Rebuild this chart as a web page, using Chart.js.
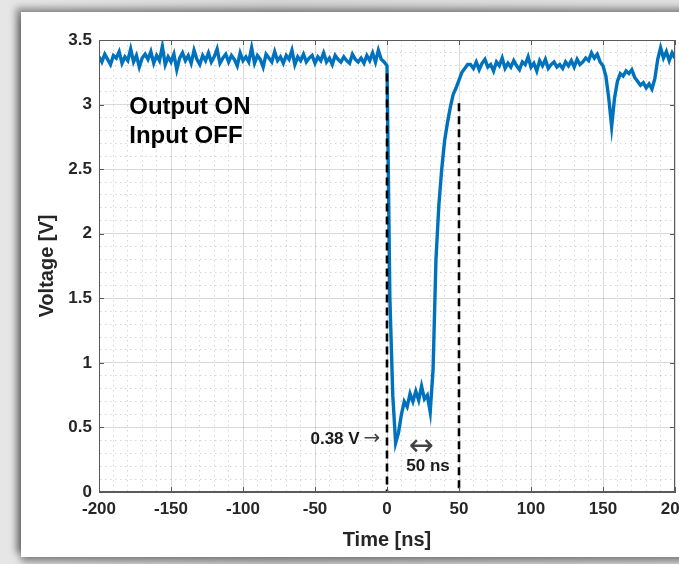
<!DOCTYPE html>
<html>
<head>
<meta charset="utf-8">
<script src="https://cdn.jsdelivr.net/npm/chart.js@4.4.0/dist/chart.umd.min.js"></script>
<style>
  html, body { margin: 0; padding: 0; }
  body { width: 679px; height: 564px; overflow: hidden; position: relative;
         background: linear-gradient(90deg, #e6e6e6, #d6d6d6 40%, #e0e0e0); }
  #panel { position: absolute; left: 21px; top: 12px; width: 720px; height: 545px; background: #fff;
           box-shadow: -5px -4px 7px rgba(0,0,0,0.4), 0 5px 7px rgba(0,0,0,0.4); }
  #chart { position: absolute; left: 0; top: 0; }
</style>
</head>
<body>
<div id="panel"></div>
<canvas id="chart" width="679" height="564"></canvas>
<script>
// scope trace, one sample every 2 ns starting at -200 ns
const t0 = -200;
const dt = 2;
const voltage = [
  // -200 .. -2 ns
  3.37, 3.33, 3.39, 3.35, 3.31, 3.38, 3.36, 3.41, 3.32, 3.37,
  3.34, 3.43, 3.33, 3.38, 3.29, 3.36, 3.39, 3.35, 3.41, 3.32,
  3.38, 3.34, 3.45, 3.31, 3.37, 3.33, 3.39, 3.27, 3.36, 3.40,
  3.34, 3.38, 3.32, 3.42, 3.35, 3.31, 3.38, 3.34, 3.40, 3.33,
  3.37, 3.43, 3.32, 3.36, 3.39, 3.33, 3.38, 3.35, 3.30, 3.40,
  3.34, 3.37, 3.33, 3.44, 3.32, 3.38, 3.35, 3.29, 3.39, 3.36,
  3.33, 3.41, 3.34, 3.37, 3.32, 3.38, 3.35, 3.42, 3.31, 3.37,
  3.34, 3.39, 3.33, 3.36, 3.38, 3.32, 3.37, 3.34, 3.40, 3.33,
  3.36, 3.31, 3.38, 3.35, 3.33, 3.37, 3.34, 3.32, 3.39, 3.35,
  3.33, 3.36, 3.32, 3.38, 3.34, 3.40, 3.33, 3.42, 3.35, 3.33,
  // 0 .. 56 ns
  3.30, 1.50, 0.75, 0.38, 0.46, 0.60, 0.70, 0.66, 0.76, 0.70,
  0.78, 0.71, 0.82, 0.72, 0.75, 0.62, 0.95, 1.80, 2.22, 2.50,
  2.72, 2.86, 2.98, 3.08, 3.13, 3.19, 3.25, 3.28, 3.31,
  // 58 .. 118 ns
  3.31, 3.28, 3.33, 3.27, 3.32, 3.35, 3.29, 3.31, 3.26, 3.33,
  3.30, 3.36, 3.28, 3.32, 3.29, 3.34, 3.30, 3.27, 3.33, 3.31,
  3.37, 3.29, 3.32, 3.26, 3.34, 3.30, 3.35, 3.28, 3.31, 3.33,
  3.29,
  // 120 .. 200 ns
  3.31, 3.28, 3.33, 3.30, 3.34, 3.29, 3.35, 3.31, 3.33, 3.36,
  3.34, 3.40, 3.36, 3.39, 3.33, 3.30, 3.22, 3.05, 2.83, 3.05,
  3.18, 3.24, 3.22, 3.26, 3.24, 3.27, 3.21, 3.18, 3.15, 3.17,
  3.13, 3.16, 3.12, 3.20, 3.35, 3.44, 3.36, 3.41, 3.34, 3.40,
  3.36
];

// dashed marker lines (time, top voltage)
const cursorTimes = [0, 50];
const cursorTops = [3.24, 3.01];

const xTickLabels = [-200, -150, -100, -50, 0, 50, 100, 150, 200];
const yTickLabels = [0, 0.5, 1, 1.5, 2, 2.5, 3, 3.5];

const notes = [
  { text: 'Output ON', t: -179, v: 2.98 },
  { text: 'Input OFF', t: -179, v: 2.75 },
  { text: '0.38 V', t: -19, v: 0.405 },
  { text: '50 ns', t: 28.5, v: 0.2 }
];

const FONT = "'Liberation Sans', Arial, sans-serif";
const majorGrid = 'rgba(0,0,0,0.15)';
const minorGrid = 'rgba(0,0,0,0.16)';

const isMajor = (list, v) => list.some(m => Math.abs(m - v) < 1e-6);

const trace = voltage.map((v, i) => ({ x: t0 + i * dt, y: v }));

const cursorSets = cursorTimes.map((t, i) => ({
  data: [{ x: t, y: cursorTops[i] }, { x: t, y: 0 }],
  borderColor: '#000',
  borderWidth: 2.6,
  borderDash: [8, 5],
  pointRadius: 0,
  order: 0
}));

const boxPlugin = {
  id: 'box',
  afterDatasetsDraw(chart) {
    const { ctx, chartArea: a, scales: { x, y } } = chart;
    ctx.save();
    ctx.strokeStyle = '#5a5a5a';
    ctx.lineWidth = 1;
    ctx.strokeRect(a.left + 0.5, a.top + 0.5, a.right - a.left - 1, a.bottom - a.top - 1);
    ctx.beginPath();
    xTickLabels.forEach(v => {
      const px = Math.round(x.getPixelForValue(v)) + 0.5;
      ctx.moveTo(px, a.bottom); ctx.lineTo(px, a.bottom - 5);
      ctx.moveTo(px, a.top); ctx.lineTo(px, a.top + 5);
    });
    yTickLabels.forEach(v => {
      const py = Math.round(y.getPixelForValue(v)) + 0.5;
      ctx.moveTo(a.left, py); ctx.lineTo(a.left + 5, py);
      ctx.moveTo(a.right, py); ctx.lineTo(a.right - 5, py);
    });
    ctx.stroke();

    // text notes
    ctx.fillStyle = '#000';
    ctx.textBaseline = 'middle';
    ctx.font = 'bold 24px ' + FONT;
    ctx.textAlign = 'left';
    notes.slice(0, 2).forEach(n => ctx.fillText(n.text, x.getPixelForValue(n.t), y.getPixelForValue(n.v)));
    ctx.font = 'bold 17px ' + FONT;
    ctx.fillStyle = '#1a1a1a';
    ctx.textAlign = 'right';
    ctx.fillText(notes[2].text, x.getPixelForValue(notes[2].t), y.getPixelForValue(notes[2].v));
    ctx.textAlign = 'center';
    ctx.fillText(notes[3].text, x.getPixelForValue(notes[3].t), y.getPixelForValue(notes[3].v));
    ctx.fillStyle = '#444';
    ctx.font = "20px 'DejaVu Sans'";
    ctx.fillText('\u2192', x.getPixelForValue(-10.5), y.getPixelForValue(0.41));
    ctx.font = "30px 'DejaVu Sans'";
    ctx.fillText('\u2194', x.getPixelForValue(23.6), y.getPixelForValue(0.35));
    ctx.restore();
  }
};

const tickFont = { family: FONT, size: 17, weight: 'bold' };
const titleFont = { family: FONT, size: 20, weight: 'bold' };

new Chart(document.getElementById('chart'), {
  type: 'line',
  data: {
    datasets: [
      ...cursorSets,
      {
        data: trace,
        borderColor: '#0072BD',
        borderWidth: 3.4,
        pointRadius: 0,
        tension: 0,
        order: 1
      }
    ]
  },
  options: {
    responsive: false,
    animation: false,
    devicePixelRatio: 1,
    layout: { padding: { top: 40, right: 4, left: 0, bottom: 0 } },
    plugins: { legend: { display: false }, tooltip: { enabled: false } },
    scales: {
      x: {
        type: 'linear',
        min: -200,
        max: 200,
        ticks: {
          stepSize: 10,
          autoSkip: false,
          maxRotation: 0,
          padding: 7,
          color: '#262626',
          font: tickFont,
          callback: v => isMajor(xTickLabels, v) ? String(v) : ''
        },
        grid: {
          drawTicks: false,
          color: c => (c.tick && !isMajor(xTickLabels, c.tick.value)) ? minorGrid : majorGrid
        },
        border: {
          color: '#5a5a5a',
          dash: c => (c.tick && !isMajor(xTickLabels, c.tick.value)) ? [1.5, 3.5] : []
        },
        title: { display: true, text: 'Time [ns]', color: '#262626', font: titleFont, padding: { top: 0, bottom: 12 } },
        afterFit: s => { s.height = 72; s.paddingLeft = 0; s.paddingRight = 0; }
      },
      y: {
        min: 0,
        max: 3.5,
        ticks: {
          stepSize: 0.1,
          autoSkip: false,
          padding: 7,
          color: '#262626',
          font: tickFont,
          callback: v => isMajor(yTickLabels, v) ? String(Math.round(v * 10) / 10) : ''
        },
        grid: {
          drawTicks: false,
          color: c => (c.tick && !isMajor(yTickLabels, c.tick.value)) ? minorGrid : majorGrid
        },
        border: {
          color: '#5a5a5a',
          dash: c => (c.tick && !isMajor(yTickLabels, c.tick.value)) ? [1.5, 3.5] : []
        },
        title: { display: true, text: 'Voltage [V]', color: '#262626', font: titleFont, padding: { top: 35, bottom: 0 } },
        afterFit: s => { s.width = 99; s.paddingTop = 0; s.paddingBottom = 0; }
      }
    }
  },
  plugins: [boxPlugin]
});
</script>
</body>
</html>
